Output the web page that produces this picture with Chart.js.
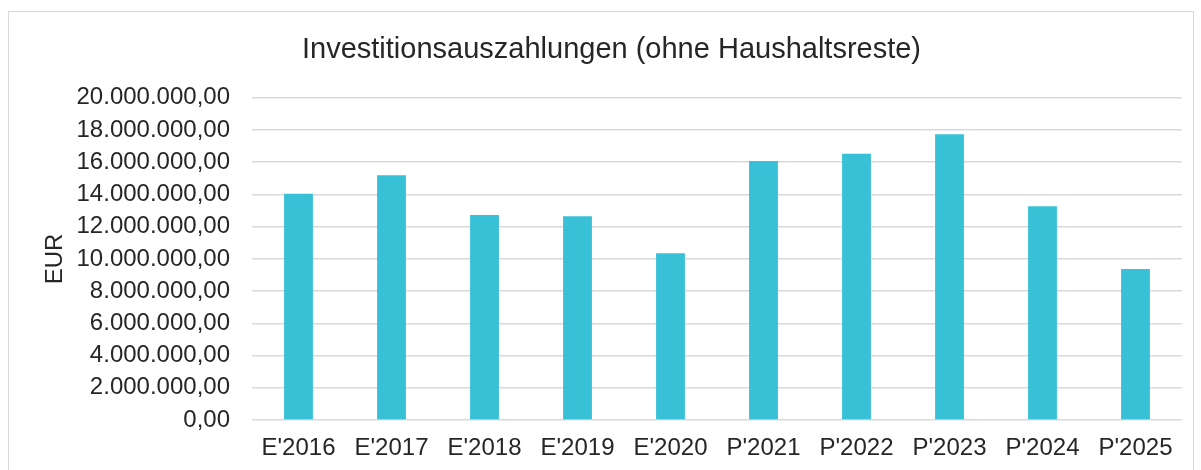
<!DOCTYPE html>
<html>
<head>
<meta charset="utf-8">
<script src="https://cdn.jsdelivr.net/npm/chart.js@4.4.1/dist/chart.umd.min.js"></script>
<style>
  html, body { margin: 0; padding: 0; background: #fff; }
  #frame { position: absolute; left: 8px; top: 11px; width: 1184px; height: 480px; border: 1px solid #d9d9d9; }
  #wrap { position: absolute; left: 0; top: 0; width: 1201px; height: 470px; }
</style>
</head>
<body>
<div id="frame"></div>
<div id="wrap"><canvas id="chart"></canvas></div>
<script>
// ===== Data =====
const categories = ["E'2016", "E'2017", "E'2018", "E'2019", "E'2020", "P'2021", "P'2022", "P'2023", "P'2024", "P'2025"];
const payouts = [14040000, 15200000, 12730000, 12650000, 10350000, 16070000, 16520000, 17740000, 13270000, 9380000];
const yMin = 0;
const yMax = 20000000;
const yStep = 2000000;

// ===== Utility =====
function formatEur(v) {
  const parts = Math.abs(v).toFixed(2).split('.');
  const intPart = parts[0].replace(/\B(?=(\d{3})+(?!\d))/g, '.');
  return (v < 0 ? '-' : '') + intPart + ',' + parts[1];
}

const font = 'Arial, "Liberation Sans", sans-serif';
const textColor = '#262626';

new Chart(document.getElementById('chart').getContext('2d'), {
  type: 'bar',
  data: {
    labels: categories,
    datasets: [{
      label: 'Investitionsauszahlungen',
      data: payouts,
      backgroundColor: '#37c0d6',
      categoryPercentage: 1,
      barPercentage: 0.31
    }]
  },
  options: {
    responsive: true,
    maintainAspectRatio: false,
    animation: false,
    layout: { padding: { left: 41, right: 19, top: 0, bottom: 0 } },
    plugins: {
      legend: { display: false },
      tooltip: { enabled: false },
      title: {
        display: true,
        text: 'Investitionsauszahlungen (ohne Haushaltsreste)',
        color: textColor,
        font: { family: font, size: 29, weight: 'normal' },
        padding: { top: 33, bottom: 30 }
      }
    },
    scales: {
      x: {
        grid: { display: false },
        border: { display: false },
        ticks: { color: textColor, font: { family: font, size: 24 }, padding: 6, maxRotation: 0 },
        afterFit: s => { s.height = 50; }
      },
      y: {
        min: yMin,
        max: yMax,
        grid: { color: '#d9d9d9', lineWidth: 1.5, drawTicks: false },
        border: { display: false },
        ticks: {
          stepSize: yStep,
          color: textColor,
          font: { family: font, size: 24 },
          padding: 22,
          callback: v => formatEur(v)
        },
        title: {
          display: true,
          text: 'EUR',
          color: textColor,
          font: { family: font, size: 24 },
          padding: 0
        },
        afterFit: s => { s.width = 211; }
      }
    }
  }
});
</script>
</body>
</html>
